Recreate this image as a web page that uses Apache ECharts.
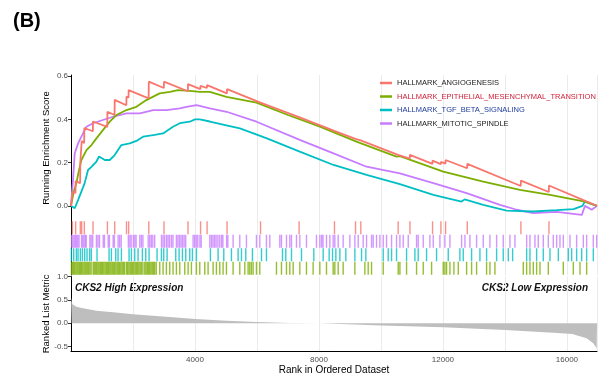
<!DOCTYPE html>
<html>
<head>
<meta charset="utf-8">
<script src="https://cdn.jsdelivr.net/npm/echarts@6/dist/echarts.min.js"></script>
<style>
  html, body { margin: 0; padding: 0; background: #fff; }
  #chart { width: 613px; height: 383px; }
</style>
</head>
<body>
<div id="chart"></div>
<script>
const setNames = [
  'HALLMARK_ANGIOGENESIS',
  'HALLMARK_EPITHELIAL_MESENCHYMAL_TRANSITION',
  'HALLMARK_TGF_BETA_SIGNALING',
  'HALLMARK_MITOTIC_SPINDLE'
]
const geneCount = 16970

// running enrichment score, [rank, score]
const esAngio = [[0, 0], [40, -0.003], [45, 0.065], [145, 0.06], [150, 0.115], [295, 0.105], [300, 0.2], [340, 0.195], [345, 0.3], [425, 0.29], [430, 0.36], [705, 0.345], [710, 0.39], [1170, 0.365], [1175, 0.435], [1405, 0.42], [1410, 0.49], [1785, 0.465], [1790, 0.505], [1855, 0.5], [1860, 0.535], [2505, 0.497], [2510, 0.574], [2995, 0.545], [3000, 0.574], [3770, 0.53], [3775, 0.563], [4175, 0.54], [4180, 0.555], [4385, 0.545], [4390, 0.558], [5030, 0.52], [5035, 0.54], [6110, 0.477], [6115, 0.482], [7355, 0.41], [7360, 0.414], [8495, 0.347], [8500, 0.35], [9175, 0.31], [9180, 0.313], [9345, 0.303], [9350, 0.306], [10550, 0.236], [10555, 0.24], [10930, 0.218], [10935, 0.236], [11660, 0.194], [11665, 0.209], [11930, 0.193], [11935, 0.203], [12080, 0.195], [12085, 0.212], [12780, 0.174], [12785, 0.194], [14510, 0.092], [14515, 0.117], [15415, 0.064], [15420, 0.094], [16970, 0]]
const esEmt = [[0, 0], [90, 0.066], [175, 0.106], [260, 0.166], [335, 0.212], [500, 0.258], [660, 0.281], [820, 0.312], [1030, 0.35], [1250, 0.389], [1465, 0.42], [1790, 0.443], [2110, 0.458], [2430, 0.489], [2860, 0.52], [3190, 0.527], [3450, 0.535], [3830, 0.532], [4155, 0.527], [4480, 0.527], [5015, 0.504], [5985, 0.477], [7000, 0.42], [8030, 0.366], [9210, 0.297], [10500, 0.228], [10610, 0.23], [12010, 0.158], [13300, 0.112], [14485, 0.074], [15455, 0.051], [16580, 0.02], [16970, 0]]
const esTgf = [[0, 0], [120, -0.011], [230, 0.028], [335, 0.066], [440, 0.105], [550, 0.166], [660, 0.18], [820, 0.205], [905, 0.228], [1090, 0.212], [1250, 0.212], [1410, 0.235], [1625, 0.281], [1895, 0.289], [2110, 0.3], [2325, 0.32], [2700, 0.328], [2970, 0.335], [3290, 0.366], [3510, 0.382], [3830, 0.389], [4000, 0.4], [4155, 0.4], [4480, 0.39], [5120, 0.369], [5450, 0.358], [6320, 0.312], [7380, 0.251], [8470, 0.189], [9535, 0.143], [10610, 0.1], [11690, 0.051], [12600, 0.02], [12700, 0.03], [13300, 0.005], [14055, -0.022], [14915, -0.026], [15670, -0.02], [16215, -0.015], [16500, 0], [16580, 0.02], [16970, 0]]
const esMitotic = [[0, 0], [65, 0.12], [120, 0.243], [230, 0.289], [335, 0.32], [500, 0.366], [710, 0.382], [1030, 0.397], [1360, 0.412], [1790, 0.428], [2220, 0.428], [2650, 0.443], [3080, 0.443], [3510, 0.451], [3725, 0.458], [4050, 0.466], [4480, 0.451], [5020, 0.435], [5985, 0.389], [7380, 0.305], [8470, 0.243], [9535, 0.181], [10610, 0.15], [11690, 0.105], [12765, 0.059], [13840, 0.005], [14380, -0.018], [14915, -0.034], [15670, -0.028], [16480, -0.042], [16580, 0], [16800, -0.018], [16970, 0]]

// positions of the set members in the ranked list
const hitsAngio = [45, 150, 300, 345, 430, 710, 1175, 1410, 1790, 1860, 2510, 3000, 3775, 4180, 4390, 5035, 6115, 7360, 8500, 9180, 9350, 10555, 10935, 11665, 11935, 12085, 12785, 14515, 15420]
const hitsMitotic = [20, 60, 100, 140, 180, 220, 260, 340, 380, 420, 460, 490, 610, 650, 700, 820, 870, 920, 1040, 1080, 1200, 1240, 1360, 1400, 1520, 1570, 1620, 1850, 1900, 1940, 2010, 2060, 2100, 2220, 2270, 2320, 2490, 2540, 2590, 2640, 2700, 2920, 2970, 3020, 3080, 3130, 3180, 3240, 3290, 3400, 3450, 3500, 3550, 3600, 3650, 3700, 3940, 3990, 4040, 4090, 4160, 4200, 4480, 4530, 4580, 4630, 4680, 4740, 4800, 4860, 4900, 5020, 5060, 5230, 5445, 5660, 5983, 6091, 6306, 6414, 6737, 6790, 6952, 7059, 7113, 7275, 7382, 7597, 7920, 8030, 8090, 8130, 8243, 8351, 8458, 8512, 8620, 8781, 8997, 9158, 9266, 9427, 9535, 9696, 9750, 9857, 9965, 10073, 10180, 10342, 10503, 10611, 10718, 10880, 11149, 11202, 11364, 11579, 11687, 11902, 12063, 12225, 12601, 12709, 12870, 13085, 13300, 13516, 13731, 13946, 14161, 14323, 14700, 14807, 14968, 15076, 15237, 15399, 15560, 15668, 15775, 15883, 16098, 16313, 16529, 16636, 16851, 16959]
const hitsTgf = [12, 87, 173, 227, 302, 367, 442, 517, 603, 657, 840, 1228, 1303, 1443, 1518, 1626, 1873, 1948, 2056, 2164, 2303, 2411, 2519, 2777, 2917, 2992, 3100, 3379, 3487, 3595, 3702, 3831, 3917, 4047, 4498, 4746, 4929, 5176, 5392, 5499, 5639, 5854, 6145, 6306, 6823, 6930, 7113, 7436, 7834, 8136, 8329, 8437, 8545, 8674, 8867, 9158, 9373, 9513, 10073, 10234, 10342, 10503, 10826, 11095, 11202, 11471, 11794, 12171, 12547, 12655, 12924, 13193, 13408, 13731, 13946, 14108, 14248, 14700, 14807, 15022, 15237, 15453, 15722, 16044, 16152, 16313, 16475, 16636, 16851]
const hitsEmt = [15, 50, 85, 120, 160, 195, 230, 270, 305, 340, 380, 420, 455, 490, 530, 570, 610, 650, 715, 750, 790, 830, 870, 905, 945, 985, 1020, 1060, 1100, 1140, 1180, 1215, 1255, 1290, 1330, 1370, 1410, 1450, 1490, 1530, 1570, 1610, 1650, 1690, 1730, 1790, 1830, 1870, 1910, 1950, 1990, 2030, 2070, 2110, 2150, 2190, 2230, 2270, 2320, 2380, 2420, 2460, 2500, 2540, 2580, 2620, 2660, 2700, 2750, 2863, 2971, 3078, 3186, 3293, 3401, 3509, 3670, 3778, 3885, 4047, 4154, 4316, 4423, 4585, 4692, 4800, 4907, 5015, 5230, 5445, 5607, 5714, 5768, 5822, 5876, 5983, 6091, 6629, 6790, 6952, 7059, 7167, 7382, 7597, 7812, 8028, 8243, 8458, 8512, 8620, 8781, 9158, 9481, 9588, 9696, 10073, 10557, 10611, 10826, 11149, 11364, 11633, 12009, 12063, 12117, 12225, 12354, 12494, 12763, 12924, 13085, 13408, 13516, 13677, 14592, 14700, 14807, 14915, 15022, 15130, 15399, 15883, 16206, 16421, 16636]

// ranked list metric, [rank, value]
const rankedMetric = [[0, 0.55], [20, 0.47], [45, 0.41], [173, 0.356], [388, 0.32], [819, 0.27], [1356, 0.235], [2001, 0.193], [2970, 0.143], [4015, 0.092], [5016, 0.056], [5985, 0.028], [7060, 0.006], [8005, 0], [8028, -0.01], [10020, -0.05], [12010, -0.086], [14010, -0.143], [15560, -0.2], [16170, -0.23], [16635, -0.32], [16850, -0.43], [16960, -0.54], [16970, -0.56]]

const esTicks = [0, 0.2, 0.4, 0.6]
const metricTicks = [-0.5, 0, 0.5, 1]
const rowKeys = ['angio', 'mitotic', 'tgf', 'emt']

const colors = ['#F8766D', '#7CAE00', '#00BFC4', '#C77CFF']
const legendText = ['#1a1a1a', '#d0203a', '#1f3c9e', '#1a1a1a']
const font = 'Liberation Sans, Arial, sans-serif'
const grey = '#ebebeb'

const chart = echarts.init(document.getElementById('chart'), null, { renderer: 'canvas' })

const baseX = (gridIndex, showLabel) => ({
  type: 'value',
  gridIndex: gridIndex,
  min: 0,
  max: geneCount,
  interval: 2000,
  axisLine: { show: showLabel, onZero: false, lineStyle: { color: '#000', width: 1 } },
  axisTick: { show: false },
  axisLabel: {
    show: showLabel,
    fontSize: 8,
    fontFamily: font,
    color: '#4d4d4d',
    margin: 4,
    formatter: v => (v > 0 && v % 4000 === 0) ? String(v) : ''
  },
  splitLine: { show: true, lineStyle: { color: grey, width: 1 } }
})

const hitSeries = (name, hits, key, color) => ({
  name: name,
  type: 'scatter',
  xAxisIndex: 1,
  yAxisIndex: 1,
  symbol: 'rect',
  symbolSize: [1.4, 13],
  itemStyle: { color: color },
  silent: true,
  data: hits.map(r => [r, key])
})

const esSeries = (name, data, color) => ({
  name: name,
  type: 'line',
  xAxisIndex: 0,
  yAxisIndex: 0,
  showSymbol: false,
  symbol: 'none',
  lineStyle: { color: color, width: 1.8 },
  itemStyle: { color: color },
  data: data
})

const yName = (text) => ({
  name: text,
  nameLocation: 'middle',
  nameGap: 20,
  nameMoveOverlap: false,
  nameTextStyle: { fontSize: 9.5, color: '#000', fontFamily: font }
})

const options = {
  animation: false,
  title: {
    text: '(B)',
    left: 8,
    top: 6,
    textStyle: { fontSize: 20, fontWeight: 'bold', color: '#000', fontFamily: font }
  },
  legend: {
    orient: 'vertical',
    left: 380,
    top: 79,
    padding: 0,
    itemWidth: 12,
    itemHeight: 2.5,
    itemGap: 5.5,
    icon: 'rect',
    textStyle: { fontSize: 7.5, fontFamily: font },
    data: setNames.map((n, i) => ({ name: n, textStyle: { color: legendText[i] } }))
  },
  grid: [
    { left: 71, right: 16, top: 75, height: 146 },
    { left: 71, right: 16, top: 221, height: 54 },
    { left: 71, right: 16, top: 276.6, height: 74.7 }
  ],
  xAxis: [
    baseX(0, false),
    baseX(1, false),
    Object.assign(baseX(2, true), {
      name: 'Rank in Ordered Dataset',
      nameLocation: 'middle',
      nameGap: 14,
      nameTextStyle: { fontSize: 10, color: '#000', fontFamily: font }
    })
  ],
  yAxis: [
    Object.assign({
      type: 'value',
      gridIndex: 0,
      min: -0.07,
      max: 0.605,
      axisLine: { show: true, lineStyle: { color: '#000', width: 1 } },
      axisTick: { show: true, length: 3, customValues: esTicks, lineStyle: { color: '#333' } },
      axisLabel: { customValues: esTicks, fontSize: 8, color: '#4d4d4d', fontFamily: font, margin: 3, formatter: v => v.toFixed(1) },
      splitLine: { show: false }
    }, yName('Running Enrichment Score')),
    {
      type: 'category',
      gridIndex: 1,
      data: rowKeys,
      inverse: true,
      axisLine: { show: true, lineStyle: { color: '#000', width: 1 } },
      axisTick: { show: false },
      axisLabel: { show: false },
      splitLine: { show: false }
    },
    Object.assign({
      type: 'value',
      gridIndex: 2,
      min: -0.6,
      max: 1.0,
      axisLine: { show: true, onZero: false, lineStyle: { color: '#000', width: 1 } },
      axisTick: { show: true, length: 3, customValues: metricTicks, lineStyle: { color: '#333' } },
      axisLabel: { customValues: metricTicks, fontSize: 8, color: '#4d4d4d', fontFamily: font, margin: 3, formatter: v => v.toFixed(1) },
      splitLine: { show: false }
    }, yName('Ranked List Metric'))
  ],
  graphic: [
    {
      type: 'text',
      left: 75,
      top: 283,
      style: { text: 'CKS2 High Expression', font: 'italic bold 10px ' + font, fill: '#111' }
    },
    {
      type: 'text',
      right: 25,
      top: 283,
      style: { text: 'CKS2 Low Expression', font: 'italic bold 10px ' + font, fill: '#111' }
    }
  ],
  series: [
    esSeries(setNames[3], esMitotic, colors[3]),
    esSeries(setNames[2], esTgf, colors[2]),
    esSeries(setNames[1], esEmt, colors[1]),
    esSeries(setNames[0], esAngio, colors[0]),
    hitSeries(setNames[0], hitsAngio, 'angio', colors[0]),
    hitSeries(setNames[3], hitsMitotic, 'mitotic', colors[3]),
    hitSeries(setNames[2], hitsTgf, 'tgf', colors[2]),
    hitSeries(setNames[1], hitsEmt, 'emt', colors[1]),
    {
      name: 'metric',
      type: 'line',
      xAxisIndex: 2,
      yAxisIndex: 2,
      showSymbol: false,
      symbol: 'none',
      silent: true,
      lineStyle: { width: 0 },
      areaStyle: { color: '#bebebe', opacity: 1, origin: 0 },
      data: rankedMetric
    }
  ]
}
chart.setOption(options)
</script>
</body>
</html>
